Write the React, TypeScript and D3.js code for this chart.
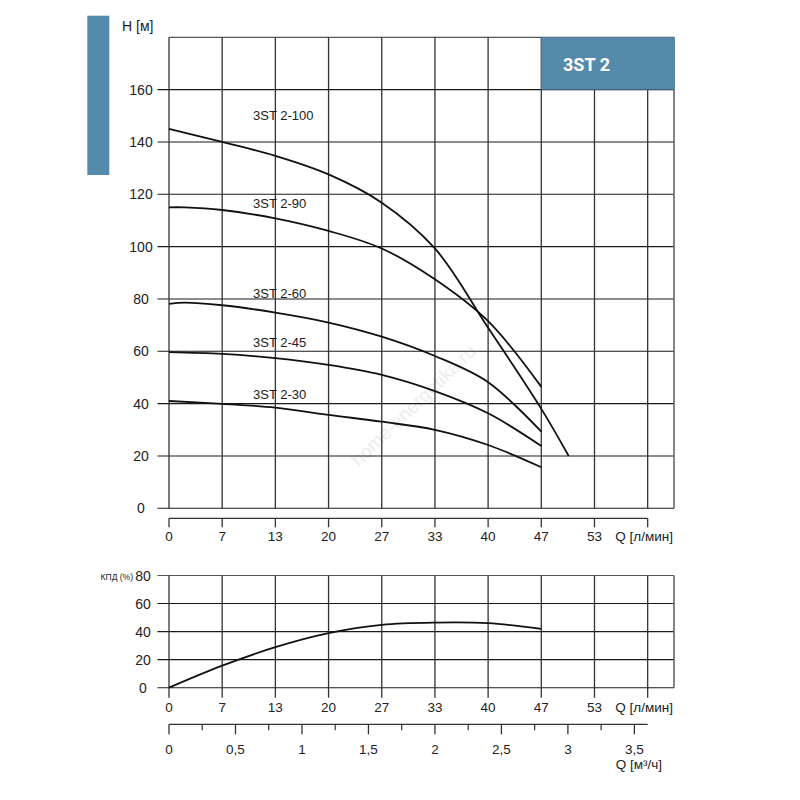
import React from "react";
import * as d3 from "d3";

// ---------- data ----------
const flowTicks = [0, 20 / 3, 40 / 3, 20, 80 / 3, 100 / 3, 40, 140 / 3, 160 / 3, 60];
const flowTickLabels = ["0", "7", "13", "20", "27", "33", "40", "47", "53", ""];
const headTicks = [0, 20, 40, 60, 80, 100, 120, 140, 160];
const effTicks = [0, 20, 40, 60, 80];
const m3Ticks = [0, 0.5, 1, 1.5, 2, 2.5, 3, 3.5];
const m3TickLabels = ["0", "0,5", "1", "1,5", "2", "2,5", "3", "3,5"];
const m3MinorTicks = [0.25, 0.75, 1.25, 1.75, 2.25, 2.75, 3.25];

const q100 = [0, 6.67, 13.33, 20, 26.67, 33.33, 40, 46.67, 50.1];
const h100 = [145, 140, 134.7, 127.6, 116.8, 99.3, 69, 38, 20];
const q90 = [0, 2, 6.67, 13.33, 20, 26.67, 33.33, 40, 46.67];
const h90 = [115, 115, 114, 110.8, 106, 99.3, 87.5, 71.5, 46.4];
const q60 = [0, 2, 6.67, 13.33, 20, 26.67, 33.33, 40, 46.67];
const h60 = [78.1, 78.6, 77.6, 74.8, 71, 65.6, 58.2, 48.2, 29.3];
const q45 = [0, 6.67, 13.33, 20, 26.67, 33.33, 40, 46.67];
const h45 = [59.7, 59, 57.4, 54.8, 51, 44.8, 36.3, 23.8];
const q30 = [0, 6.67, 13.33, 20, 26.67, 33.33, 40, 46.67];
const h30 = [41, 39.9, 38.5, 35.7, 33.1, 30, 24.2, 15.7];
const qEff = [0, 6.67, 13.33, 20, 26.67, 33.33, 40, 46.67];
const eff = [0, 15.7, 28.9, 38.9, 44.8, 46.4, 46, 41.9];

const curveNames = ["3ST 2-100", "3ST 2-90", "3ST 2-60", "3ST 2-45", "3ST 2-30"];
const curveLabelH = [150, 116.5, 82, 63.5, 43.5];

const BLUE = "#568aab";
const INK = "#222";
const FONT = "'Liberation Sans', Arial, sans-serif";

export default function App() {
  const x = d3.scaleLinear().domain([0, 63.3]).range([169, 674]);
  const yH = d3.scaleLinear().domain([0, 180]).range([508.3, 37.3]);
  const yE = d3.scaleLinear().domain([0, 80]).range([687.7, 575.5]);
  const xM3 = (v: number) => x((v * 1000) / 60);

  const lineH = d3
    .line<[number, number]>()
    .x((d) => x(d[0]))
    .y((d) => yH(d[1]))
    .curve(d3.curveCatmullRom.alpha(0.5));
  const lineE = d3
    .line<[number, number]>()
    .x((d) => x(d[0]))
    .y((d) => yE(d[1]))
    .curve(d3.curveCatmullRom.alpha(0.5));

  const zip = (a: number[], b: number[]) => a.map((v, i) => [v, b[i]] as [number, number]);
  const series = [zip(q100, h100), zip(q90, h90), zip(q60, h60), zip(q45, h45), zip(q30, h30)];

  const [x0, x1] = x.range();
  const axisY = 518.3;
  const m3AxisY = 724.3;

  return (
    <svg
      width={800}
      height={800}
      style={{ position: "absolute", left: 0, top: 0, background: "#fff" }}
      fontFamily={FONT}
    >
      {/* left blue bar */}
      <rect x={87.3} y={15.7} width={22} height={159.3} fill={BLUE} />

      {/* ---------- main chart ---------- */}
      <text x={122} y={31} fontSize={14} fill={INK}>
        H [м]
      </text>
      {/* watermark */}
      <text
        x={0}
        y={0}
        fontSize={19}
        fill="#ececec"
        textAnchor="middle"
        transform="translate(418,410) rotate(-44)"
      >
        home-energetika.ru
      </text>
      {/* horizontal grid */}
      {headTicks.map((t) => (
        <line key={"h" + t} x1={157.5} x2={x1} y1={yH(t)} y2={yH(t)} stroke="#1a1a1a" strokeWidth={1.1} />
      ))}
      <line x1={x0} x2={x1} y1={yH(180)} y2={yH(180)} stroke="#555" strokeWidth={1.3} />
      {/* vertical grid */}
      {flowTicks.map((t) => (
        <line key={"v" + t} x1={x(t)} x2={x(t)} y1={yH(180)} y2={yH(0)} stroke="#333" strokeWidth={1.3} />
      ))}
      <line x1={x1} x2={x1} y1={yH(180)} y2={yH(0)} stroke="#666" strokeWidth={1.6} />
      {/* y labels */}
      {headTicks.map((t) => (
        <text key={"hl" + t} x={141} y={yH(t) + 5} fontSize={14} textAnchor="middle" fill={INK}>
          {t}
        </text>
      ))}
      {/* title box */}
      <rect x={x(140 / 3)} y={yH(180)} width={x1 - x(140 / 3) + 0.8} height={yH(160) - yH(180)} fill={BLUE} />
      <text
        x={563}
        y={70.5}
        fontSize={19}
        fontWeight="bold"
        fill="#fff"
        textLength={47}
        lengthAdjust="spacingAndGlyphs"
        fontFamily="'Liberation Sans Narrow', 'Roboto', 'Liberation Sans', sans-serif"
      >
        3ST 2
      </text>

      {/* curves */}
      {series.map((s, i) => (
        <path key={"c" + i} d={lineH(s) || ""} fill="none" stroke="#111" strokeWidth={1.8} />
      ))}
      {curveNames.map((n, i) => (
        <text key={"n" + i} x={253} y={yH(curveLabelH[i]) + 4.5} fontSize={13} fill={INK}>
          {n}
        </text>
      ))}

      {/* main x axis */}
      <line x1={x0} x2={x(60)} y1={axisY} y2={axisY} stroke="#333" strokeWidth={1.3} />
      {flowTicks.map((t) => (
        <line key={"at" + t} x1={x(t)} x2={x(t)} y1={axisY} y2={axisY + 9} stroke="#333" strokeWidth={1.3} />
      ))}
      {flowTicks.map((t, i) => (
        <text key={"al" + t} x={x(t)} y={541} fontSize={13.5} textAnchor="middle" fill={INK}>
          {flowTickLabels[i]}
        </text>
      ))}
      <text x={673} y={541} fontSize={13.5} textAnchor="end" fill={INK}>
        Q [л/мин]
      </text>

      {/* ---------- efficiency chart ---------- */}
      {effTicks.map((t) => (
        <line
          key={"eh" + t}
          x1={157.5}
          x2={x1}
          y1={yE(t)}
          y2={yE(t)}
          stroke={t === 80 ? "#555" : "#1a1a1a"}
          strokeWidth={1.1}
        />
      ))}
      {flowTicks.map((t) => (
        <line key={"ev" + t} x1={x(t)} x2={x(t)} y1={yE(80)} y2={yE(0) + 10} stroke="#333" strokeWidth={1.3} />
      ))}
      <line x1={x1} x2={x1} y1={yE(80)} y2={yE(0)} stroke="#666" strokeWidth={1.6} />
      {effTicks.map((t) => (
        <text key={"el" + t} x={143} y={yE(t) + 5} fontSize={14} textAnchor="middle" fill={INK}>
          {t}
        </text>
      ))}
      <text x={133} y={yE(80) + 4} fontSize={8.5} textAnchor="end" fill={INK}>
        КПД (%)
      </text>
      <path d={lineE(zip(qEff, eff)) || ""} fill="none" stroke="#111" strokeWidth={1.8} />
      {flowTicks.map((t, i) => (
        <text key={"exl" + t} x={x(t)} y={712} fontSize={13.5} textAnchor="middle" fill={INK}>
          {flowTickLabels[i]}
        </text>
      ))}
      <text x={673} y={712} fontSize={13.5} textAnchor="end" fill={INK}>
        Q [л/мин]
      </text>

      {/* m3/h axis */}
      <line x1={x0} x2={x(60)} y1={m3AxisY} y2={m3AxisY} stroke="#333" strokeWidth={1.3} />
      {m3Ticks.map((t) => (
        <line key={"mt" + t} x1={xM3(t)} x2={xM3(t)} y1={m3AxisY} y2={m3AxisY + 10} stroke="#333" strokeWidth={1.3} />
      ))}
      {m3MinorTicks.map((t) => (
        <line key={"mm" + t} x1={xM3(t)} x2={xM3(t)} y1={m3AxisY} y2={m3AxisY + 6} stroke="#333" strokeWidth={1.2} />
      ))}
      {m3Ticks.map((t, i) => (
        <text key={"ml" + t} x={xM3(t)} y={754} fontSize={13.5} textAnchor="middle" fill={INK}>
          {m3TickLabels[i]}
        </text>
      ))}
      <text x={662} y={769} fontSize={13.5} textAnchor="end" fill={INK}>
        Q [м³/ч]
      </text>
    </svg>
  );
}
